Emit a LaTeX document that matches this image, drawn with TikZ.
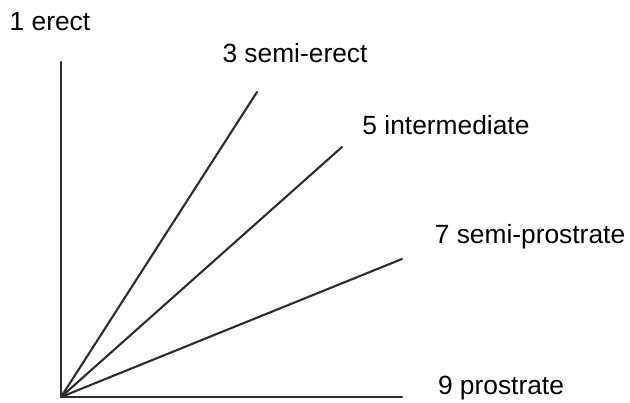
\documentclass[tikz,border=0pt]{standalone}
\usepackage{fontspec}
\setmainfont{Liberation Sans}
\usetikzlibrary{positioning}
\definecolor{stem_gray}{RGB}{45, 45, 45}

\begin{document}
\begin{tikzpicture}[
        x=0.02cm, y=0.02cm,
        font=\fontsize{15}{18}\selectfont,
        every node/.style={inner sep=0pt},
        stem/.style={line width=1.2pt, stem_gray, line cap=round}
    ]
        % Cornice (630 x 403 px, 1 px = 0.02 cm)
        \useasboundingbox (0, 0) rectangle (630, 403);

        % -------- Punti --------
        \coordinate (o) at (61, 6);
        \coordinate (erect) at (61, 341);
        \coordinate (semierect) at (257, 311);
        \coordinate (interm) at (342, 256);
        \coordinate (semiprost) at (402, 144);
        \coordinate (prost) at (402, 6);

        % -------- Steli --------
        \foreach \p in {erect, semierect, interm, semiprost, prost}{
            \draw[stem] (o) -- (\p);
        }

        % -------- Etichette --------
        \node (l1) at (50, 381) {1 erect};
        \node (l3) at (295, 350) {3 semi-erect};
        \node (l5) at (446, 278) {5 intermediate};
        \node (l7) at (530, 166) {7 semi-prostrate};
        \node (l9) at (501, 15) {9 prostrate};

    \end{tikzpicture}
\end{document}
